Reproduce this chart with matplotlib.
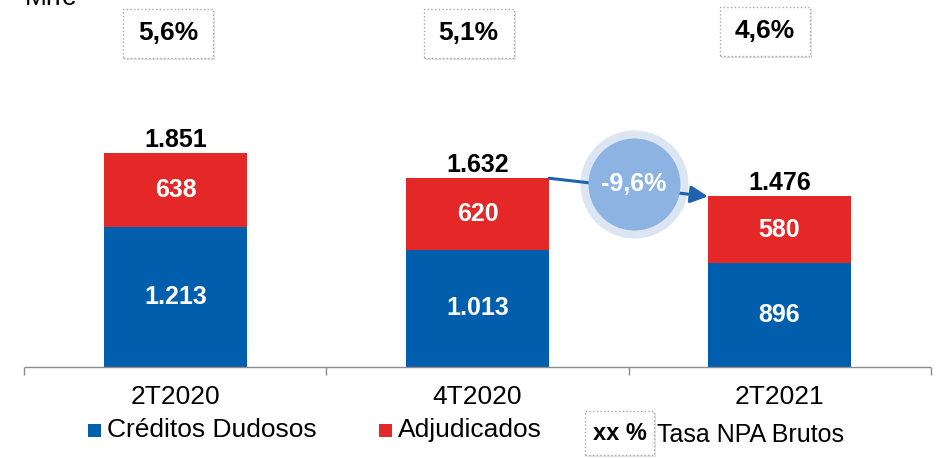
import matplotlib.pyplot as plt
from matplotlib.patches import Rectangle

plt.rcParams['font.family'] = ['Liberation Sans', 'DejaVu Sans']

# data
periods = ['2T2020', '4T2020', '2T2021']
creditos_dudosos = [1213, 1013, 896]
adjudicados = [638, 620, 580]
totales = ['1.851', '1.632', '1.476']
tasa_npa = ['5,6%', '5,1%', '4,6%']
variacion = '-9,6%'

BLUE = '#005EAC'
RED = '#E32827'
GREY = '#8c8c8c'

W, H = 942, 458
fig = plt.figure(figsize=(W / 100, H / 100), dpi=100)
ax = fig.add_axes([0, 0, 1, 1])
ax.set_xlim(-0.581, 2.538)
ax.set_ylim(-787, 3175)
ax.axis('off')

x = list(range(len(periods)))
bw = 0.474
ax.bar(x, creditos_dudosos, bw, color=BLUE, zorder=2)
ax.bar(x, adjudicados, bw, bottom=creditos_dudosos, color=RED, zorder=2)

for i in x:
    cd = creditos_dudosos[i]
    ad = adjudicados[i]
    ax.text(i, cd / 2, f'{cd:,}'.replace(',', '.'), ha='center', va='center',
            color='white', fontsize=18, fontweight='bold', zorder=3)
    ax.text(i, cd + ad / 2, str(ad), ha='center', va='center',
            color='white', fontsize=18, fontweight='bold', zorder=3)
    ax.annotate(totales[i], (i, cd + ad), xytext=(0, 4.5), textcoords='offset points',
                ha='center', va='baseline', fontsize=18, fontweight='bold')
    ax.text(i, -255, periods[i], ha='center', va='center', fontsize=19)

# axis line and ticks
ax.axhline(0, xmin=25 / W, xmax=930 / W, color=GREY, lw=1)
ax.vlines([-0.5, 0.5, 1.5, 2.5], -65, 0, color=GREY, lw=1)

# NPA boxes
def npa_box(cx, cy, w, h, label, fs):
    ax.add_patch(Rectangle((cx - w / 2 + 2 / W, cy - h / 2 - 2 / H), w, h, transform=ax.transAxes,
                           fc='#e4e4e4', ec='none', zorder=4))
    ax.add_patch(Rectangle((cx - w / 2, cy - h / 2), w, h, transform=ax.transAxes,
                           fc='white', ec='#a8a8a8', ls=':', lw=1, zorder=5))
    ax.text(cx, cy, label, transform=ax.transAxes, ha='center', va='center',
            fontsize=fs, fontweight='bold', zorder=6)

box_offsets = [-7, -9, -15]
box_y = [33.5, 33.5, 31.5]
for i in x:
    cx_px = 175.5 + 302 * i + box_offsets[i]
    npa_box(cx_px / W, 1 - box_y[i] / H, 90 / W, 49 / H, tasa_npa[i], 19)

# unit label (cut off at the top, as in the source)
ax.text(25 / W, 1 - 5 / H, 'Mn€', transform=ax.transAxes, ha='left', va='baseline', fontsize=19)

# change arrow and circle
tot = [c + a for c, a in zip(creditos_dudosos, adjudicados)]
ax.annotate('', xy=(2 - bw / 2, tot[2]), xytext=(1 + bw / 2, tot[1]),
            arrowprops=dict(arrowstyle='-|>', color='#1F62AE', lw=2.2,
                            mutation_scale=26, shrinkA=0, shrinkB=0), zorder=4)
cx_c, cy_c = 1.518, 1583
ax.scatter([cx_c], [cy_c], s=6050, color='#DCE6F2', zorder=3, linewidths=0)
ax.scatter([cx_c], [cy_c], s=4385, color='#8DB3E2', zorder=5, linewidths=0)
ax.text(cx_c, cy_c, variacion, ha='center', va='center', color='white',
        fontsize=18, fontweight='bold', zorder=6)

# legend
ly = 1 - 430 / H
sq = 13
ax.add_patch(Rectangle((88 / W, ly - sq / 2 / H), sq / W, sq / H, transform=ax.transAxes, fc=BLUE, ec='none'))
ax.text(107 / W, ly, 'Créditos Dudosos', transform=ax.transAxes, ha='left', va='center', fontsize=19)
ax.add_patch(Rectangle((379 / W, ly - sq / 2 / H), sq / W, sq / H, transform=ax.transAxes, fc=RED, ec='none'))
ax.text(398 / W, ly, 'Adjudicados', transform=ax.transAxes, ha='left', va='center', fontsize=19)
npa_box(620 / W, 1 - 433 / H, 69 / W, 44 / H, 'xx %', 17)
ax.text(657 / W, 1 - 435 / H, 'Tasa NPA Brutos', transform=ax.transAxes, ha='left', va='center', fontsize=18)

fig.savefig('out.png', dpi=100)
